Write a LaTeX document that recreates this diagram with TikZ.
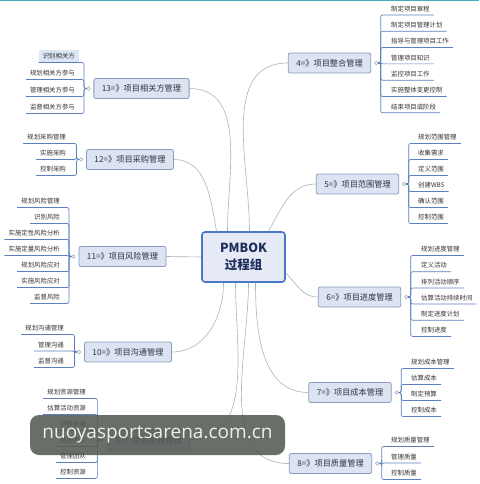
\documentclass[tikz,border=0pt]{standalone}
\usepackage{fontspec}
\newfontfamily\cjk{Noto Sans CJK SC}
\newfontfamily\wmfont{Open Sans}
\usetikzlibrary{positioning}
\definecolor{rootblue}{HTML}{4A78C8}
\definecolor{rootfill}{HTML}{E6EAF6}
\definecolor{rootink}{HTML}{1E2D5A}
\definecolor{topicedge}{HTML}{8A9BBB}
\definecolor{topicfill}{HTML}{DCE3F1}
\definecolor{topicink}{HTML}{2E3440}
\definecolor{leafink}{HTML}{333333}
\definecolor{forkblue}{HTML}{5B80BD}
\definecolor{spokegray}{HTML}{AAB3C4}
\definecolor{knobgray}{HTML}{9AA5B8}
\definecolor{hlfill}{HTML}{DBE7F4}
\definecolor{wmgray}{HTML}{555A55}
\definecolor{wmtext}{HTML}{E9F1E9}
\definecolor{topline}{HTML}{45AEBD}
\begin{document}
\begin{tikzpicture}
	[x=1pt,y=1pt,
	every node/.style={font=\cjk},
	root/.style={draw=rootblue, line width=1.6pt, fill=rootfill,
		rounded corners=3pt, minimum width=83pt, minimum height=50pt,
		align=center, text=rootink,
		font=\cjk\bfseries\fontsize{12.5}{17}\selectfont},
	topic/.style={draw=topicedge, line width=.8pt, fill=topicfill,
		rounded corners=2pt, minimum height=20pt, inner xsep=8pt,
		text=topicink, font=\cjk\fontsize{8.2}{10}\selectfont},
	leafr/.style={anchor=south west, inner xsep=4pt, inner ysep=3pt,
		text=leafink, font=\cjk\fontsize{6.4}{7}\selectfont},
	leafl/.style={leafr, anchor=south east},
	knob/.style={circle, draw=knobgray, fill=white, line width=.5pt,
		inner sep=0pt, minimum size=3.5pt},
	spoke/.style={draw=spokegray, line width=.6pt},
	fork/.style={draw=forkblue, line width=.7pt, rounded corners=2pt},
	wmark/.style={fill=wmgray, fill opacity=.88, text opacity=1,
		text=wmtext, rounded corners=9pt, minimum width=255pt,
		minimum height=40pt, font=\wmfont\fontsize{19}{22}\selectfont}]

	\useasboundingbox (0,0) rectangle (479,-484);
	\fill[white] (0,0) rectangle (479,-484);
	\fill[topline] (0,0) rectangle (479,-1.2);

	\node[root] (pm) at (243.5,-257) {PMBOK\\过程组};

	% right branches
	\node[topic] (b4) at (329.5,-63)  {4=》项目整合管理};
	\node[topic] (b5) at (357.5,-184) {5=》项目范围管理};
	\node[topic] (b6) at (359.5,-297) {6=》项目进度管理};
	\node[topic] (b7) at (350,-392.5) {7=》项目成本管理};
	\node[topic] (b8) at (330.5,-463.5) {8=》项目质量管理};

	% left branches
	\node[topic] (b13) at (141.5,-88.5) {13=》项目相关方管理};
	\node[topic] (b12) at (130,-159.5)  {12=》项目采购管理};
	\node[topic] (b11) at (122.5,-256.5) {11=》项目风险管理};
	\node[topic] (b10) at (128,-352)    {10=》项目沟通管理};
	\node[topic] (b9)  at (148.5,-440)  {9=》项目资源管理};

	\foreach \b in {4,5,6,7,8}
		\node[knob, right=3pt of b\b] (k\b) {};
	\foreach \b in {13,12,11,10,9}
		\node[knob, left=3pt of b\b] (k\b) {};

	% leaves of 4
	\node[leafr] (l4a) at (387,-15)    {制定项目章程};
	\node[leafr] (l4b) at (387,-31.3)  {制定项目管理计划};
	\node[leafr] (l4c) at (387,-47.6)  {指导与管理项目工作};
	\node[leafr] (l4d) at (387,-63.9)  {管理项目知识};
	\node[leafr] (l4e) at (387,-80.2)  {监控项目工作};
	\node[leafr] (l4f) at (387,-96.5)  {实施整体变更控制};
	\node[leafr] (l4g) at (387,-112.8) {结束项目或阶段};

	% leaves of 5
	\node[leafr] (l5a) at (414,-143.5) {规划范围管理};
	\node[leafr] (l5b) at (414,-159.5) {收集需求};
	\node[leafr] (l5c) at (414,-175.5) {定义范围};
	\node[leafr] (l5d) at (414,-191.5) {创建WBS};
	\node[leafr] (l5e) at (414,-207.5) {确认范围};
	\node[leafr] (l5f) at (414,-223.5) {控制范围};

	% leaves of 6
	\node[leafr] (l6a) at (417,-255.5) {规划进度管理};
	\node[leafr] (l6b) at (417,-271.7) {定义活动};
	\node[leafr] (l6c) at (417,-288)   {排列活动顺序};
	\node[leafr] (l6d) at (417,-304)   {估算活动持续时间};
	\node[leafr] (l6e) at (417,-320.2) {制定进度计划};
	\node[leafr] (l6f) at (417,-336.4) {控制进度};

	% leaves of 7
	\node[leafr] (l7a) at (407,-368.5) {规划成本管理};
	\node[leafr] (l7b) at (407,-384.5) {估算成本};
	\node[leafr] (l7c) at (407,-400.5) {制定预算};
	\node[leafr] (l7d) at (407,-416.5) {控制成本};

	% leaves of 8
	\node[leafr] (l8a) at (387,-446.5) {规划质量管理};
	\node[leafr] (l8b) at (387,-463)   {管理质量};
	\node[leafr] (l8c) at (387,-479.5) {控制质量};

	% leaves of 13
	\node[leafl, fill=hlfill] (l13a) at (79,-62.5) {识别相关方};
	\node[leafl] (l13b) at (79,-79.5)  {规划相关方参与};
	\node[leafl] (l13c) at (79,-96.5)  {管理相关方参与};
	\node[leafl] (l13d) at (79,-113.5) {监督相关方参与};

	% leaves of 12
	\node[leafl] (l12a) at (70,-143.5) {规划采购管理};
	\node[leafl] (l12b) at (70,-159.5) {实施采购};
	\node[leafl] (l12c) at (70,-175.5) {控制采购};

	% leaves of 11
	\node[leafl] (l11a) at (64,-207.5) {规划风险管理};
	\node[leafl] (l11b) at (64,-223.5) {识别风险};
	\node[leafl] (l11c) at (64,-239.5) {实施定性风险分析};
	\node[leafl] (l11d) at (64,-255.5) {实施定量风险分析};
	\node[leafl] (l11e) at (64,-271.5) {规划风险应对};
	\node[leafl] (l11f) at (64,-287.5) {实施风险应对};
	\node[leafl] (l11g) at (64,-303.5) {监督风险};

	% leaves of 10
	\node[leafl] (l10a) at (68,-334.5) {规划沟通管理};
	\node[leafl] (l10b) at (68,-351)   {管理沟通};
	\node[leafl] (l10c) at (68,-367.5) {监督沟通};

	% leaves of 9
	\node[leafl] (l9a) at (90,-398.5) {规划资源管理};
	\node[leafl] (l9b) at (90,-414.5) {估算活动资源};
	\node[leafl] (l9c) at (90,-430.5) {获取资源};
	\node[leafl] (l9d) at (90,-446.5) {建设团队};
	\node[leafl] (l9e) at (90,-462.5) {管理团队};
	\node[leafl] (l9f) at (90,-478.5) {控制资源};

	% centre to branches
	\foreach \dx/\o/\to/\a/\side in {-16/90/b13/0/east, -27/100/b12/0/east,
		6/90/b4/180/west, 25/60/b5/180/west}
		\draw[spoke] ([xshift=\dx pt]pm.north) to[out=\o,in=\a] (\to.\side);
	\foreach \dx/\to/\a/\side in {12/b7/180/west, 5/b8/180/west,
		-8/b9/0/east, -20/b10/0/east}
		\draw[spoke] ([xshift=\dx pt]pm.south) to[out=-90,in=\a] (\to.\side);
	\draw[spoke] ([yshift=-16pt]pm.east) to[out=-45,in=180] (b6.west);
	\draw[spoke] (pm.west) -- (b11.east);

	% branches to leaves
	\foreach \k/\z in {4/g,5/f,6/f,7/d,8/c}
		\foreach \y in {a,...,\z}
			\draw[fork] (k\k.east) -- ++(2.5,0) |- (l\k\y.south west) -- (l\k\y.south east);
	\foreach \k/\z in {13/d,12/c,11/g,10/c,9/f}
		\foreach \y in {a,...,\z}
			\draw[fork] (k\k.west) -- ++(-2.5,0) |- (l\k\y.south east) -- (l\k\y.south west);

	\node[wmark] (wm) at (157.5,-435) {nuoyasportsarena.com.cn};
\end{tikzpicture}
\end{document}
